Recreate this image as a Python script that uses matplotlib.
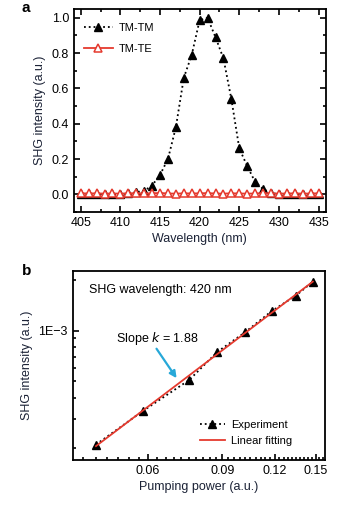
import numpy as np
import matplotlib
matplotlib.use("Agg")
import matplotlib.pyplot as plt
from matplotlib.ticker import FixedLocator, MultipleLocator, NullFormatter, FixedFormatter, LogLocator

plt.rcParams['font.family'] = ['Liberation Sans', 'DejaVu Sans']

# ---- Panel a data ----
wavelength = list(range(405, 436))
tm_tm = [0.0, 0.0, 0.0, 0.0, 0.0, 0.0, 0.005, 0.012, 0.02, 0.05, 0.11, 0.2, 0.38,
         0.66, 0.79, 0.987, 1.0, 0.89, 0.77, 0.54, 0.26, 0.16, 0.07, 0.03, 0.008,
         0.0, 0.0, 0.0, 0.0, 0.0, 0.0]
tm_te = [0.006, 0.005, 0.006, 0.004, 0.005, 0.004, 0.006, 0.007, 0.005, 0.006,
         0.008, 0.005, 0.004, 0.006, 0.005, 0.006, 0.007, 0.005, 0.004, 0.006,
         0.005, 0.004, 0.005, 0.007, 0.006, 0.004, 0.005, 0.006, 0.004, 0.005, 0.006]

# ---- Panel b data ----
pump_power = [0.0451, 0.0582, 0.0751, 0.0877, 0.102, 0.118, 0.1347, 0.1478]
shg_intensity = [2.1e-4, 3.32e-4, 5.09e-4, 7.5e-4, 9.8e-4, 1.31e-3, 1.62e-3, 1.96e-3]
b_xticks = [0.06, 0.09, 0.12, 0.15]
b_xticklabels = ['0.06', '0.09', '0.12', '0.15']

W, H = 354, 505
fig = plt.figure(figsize=(W / 100, H / 100), dpi=100)

text_col = '#1b2236'
red = '#e53a2e'
fs = 9

def ax_rect(l, t, r, b):
    return [l / W, 1 - b / H, (r - l) / W, (b - t) / H]

# ---------------- Panel a ----------------
ax1 = fig.add_axes(ax_rect(74, 9, 325.7, 212))
ax1.plot(wavelength, tm_tm, ':', color='black', lw=1.3, marker='^', ms=6,
         mfc='black', mec='black', label='TM-TM', zorder=2)
ax1.plot(wavelength, tm_te, '-', color=red, lw=1.3, marker='^', ms=5.5,
         mfc='white', mec=red, mew=1.1, label='TM-TE', zorder=3)
ax1.set_xlim(404.15, 435.9)
ax1.set_ylim(-0.1, 1.05)
ax1.xaxis.set_major_locator(MultipleLocator(5))
ax1.xaxis.set_minor_locator(MultipleLocator(2.5))
ax1.yaxis.set_major_locator(MultipleLocator(0.2))
ax1.yaxis.set_minor_locator(MultipleLocator(0.1))
ax1.yaxis.set_major_formatter(matplotlib.ticker.FormatStrFormatter('%.1f'))
ax1.tick_params(which='both', direction='in', top=True, right=True, labelsize=fs,
                width=1.2, labelcolor='black')
ax1.tick_params(which='major', length=4)
ax1.tick_params(which='minor', length=2.5)
for s in ax1.spines.values():
    s.set_linewidth(1.3)
ax1.set_xlabel('Wavelength (nm)', fontsize=fs, color=text_col, labelpad=3)
ax1.set_ylabel('SHG intensity (a.u.)', fontsize=fs, color=text_col, labelpad=4)
ax1.legend(loc='upper left', frameon=False, fontsize=8,
           handlelength=2.6, handletextpad=0.5, labelspacing=1.0,
           bbox_to_anchor=(0.0, 0.98))
fig.text(22 / W, 1 - 8 / H, 'a', fontsize=11, fontweight='bold', va='center', ha='left')

# ---------------- Panel b ----------------
ax2 = fig.add_axes(ax_rect(72.7, 270.7, 325, 460))
ax2.set_xscale('log')
ax2.set_yscale('log')
px = np.array(pump_power)
py = np.array(shg_intensity)
k, b0 = np.polyfit(np.log10(px), np.log10(py), 1)
xfit = np.array([px.min(), px.max()])
ax2.plot(px, py, ':', color='black', lw=1.3, marker='^', ms=6, mfc='black',
         mec='black', label='Experiment', zorder=2)
ax2.plot(xfit, 10 ** (b0 + k * np.log10(xfit)), '-', color=red, lw=1.3,
         label='Linear fitting', zorder=3)
ax2.set_xlim(0.0397, 0.158)
ax2.set_ylim(1.7e-4, 2.28e-3)
ax2.xaxis.set_major_locator(FixedLocator(b_xticks))
ax2.xaxis.set_major_formatter(FixedFormatter(b_xticklabels))
ax2.xaxis.set_minor_locator(FixedLocator(np.arange(0.039, 0.158, 0.003)))
ax2.xaxis.set_minor_formatter(NullFormatter())
ax2.yaxis.set_major_locator(FixedLocator([1e-3]))
ax2.yaxis.set_major_formatter(FixedFormatter(['1E\u22123']))
ax2.yaxis.set_minor_locator(LogLocator(base=10, subs=np.arange(2, 10)))
ax2.yaxis.set_minor_formatter(NullFormatter())
ax2.tick_params(which='both', direction='in', labelsize=fs, width=1.2)
ax2.tick_params(which='major', length=4)
ax2.tick_params(which='minor', length=2.5)
for s in ax2.spines.values():
    s.set_linewidth(1.3)
ax2.set_xlabel('Pumping power (a.u.)', fontsize=fs, color=text_col, labelpad=3)
ax2.set_ylabel('SHG intensity (a.u.)', fontsize=fs, color=text_col, labelpad=4)
ax2.legend(loc='lower right', frameon=False, fontsize=8, handlelength=2.2,
           handletextpad=0.6, labelspacing=0.6, bbox_to_anchor=(0.91, 0.02))
ax2.text(0.065, 0.9, 'SHG wavelength: 420 nm', transform=ax2.transAxes,
         fontsize=fs, va='center', ha='left')
ax2.text(0.17, 0.64, 'Slope $k$ = 1.88', transform=ax2.transAxes,
         fontsize=fs, va='center', ha='left')
ax2.annotate('', xy=(0.418, 0.42), xytext=(0.326, 0.6), xycoords='axes fraction',
             arrowprops=dict(arrowstyle='-|>', color='#27a8d8', lw=1.6,
                             mutation_scale=10))
fig.text(22 / W, 1 - 271 / H, 'b', fontsize=11, fontweight='bold', va='center', ha='left')

fig.savefig('out.png', dpi=100)
